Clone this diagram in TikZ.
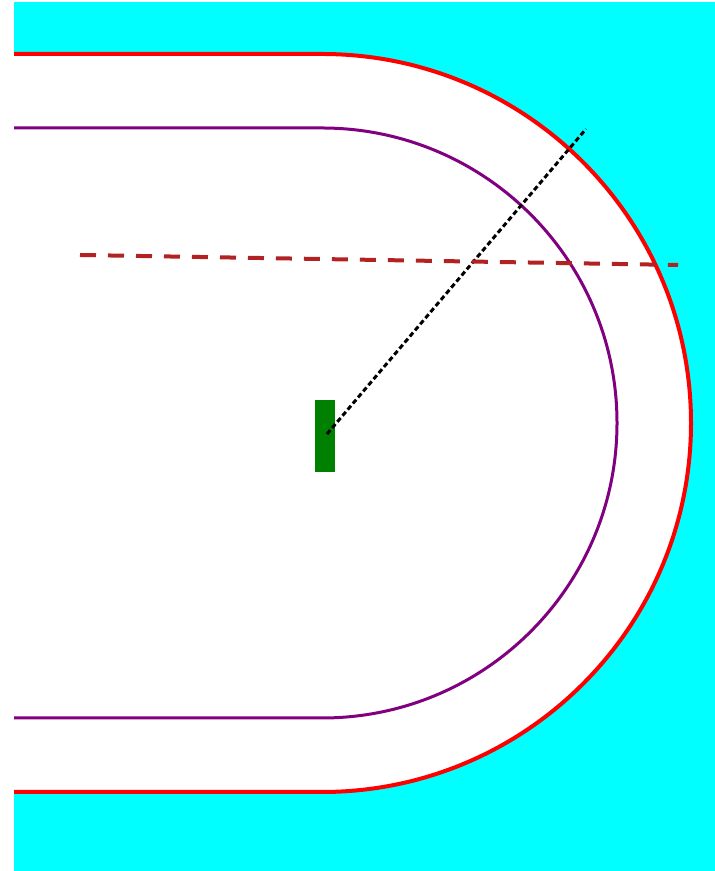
\documentclass[tikz,border=0pt]{standalone}
\usepackage{tikz}
\usetikzlibrary{positioning}

\definecolor{fieldcyan}{RGB}{0,255,255}
\definecolor{carcolor}{RGB}{0,128,0}
\definecolor{laneviolet}{RGB}{128,0,128}
\definecolor{levelred}{RGB}{178,34,34}

\begin{document}
\begin{tikzpicture}[
    x=0.5pt, y=0.5pt,
    outerline/.style={draw=red, line width=2pt},
    innerline/.style={draw=laneviolet, line width=1.5pt},
    car/.style={
        rectangle, fill=carcolor, inner sep=0pt,
        minimum width=10pt, minimum height=36pt
    },
    sightline/.style={black, line width=1.5pt, dash pattern=on 2.5pt off 1.5pt},
    levelline/.style={levelred, line width=2pt, dash pattern=on 8pt off 6pt},
]

% Frame and background
\useasboundingbox (0,0) rectangle (715,871);
\fill[fieldcyan] (14,0) rectangle (715,869);

% Track surface (outer boundary)
\fill[white] (14,817) -- (322,817) arc[start angle=90, end angle=-90, radius=369]
    -- (14,79) -- cycle;
\draw[outerline] (14,817) -- (322,817) arc[start angle=90, end angle=-90, radius=369]
    -- (14,79);

% Inner lane
\draw[innerline] (14,743) -- (322,743) arc[start angle=90, end angle=-90, radius=295]
    -- (14,153);

% Car and its lines
\node[car] (car) at (325,435) {};
\coordinate (aim) at (586,742);
\draw[sightline] ([xshift=1pt,yshift=1pt]car.center) -- (aim);

\coordinate (levelstart) at (80,616);
\coordinate (levelend) at (678,606);
\draw[levelline] (levelstart) -- (levelend);

\end{tikzpicture}
\end{document}
